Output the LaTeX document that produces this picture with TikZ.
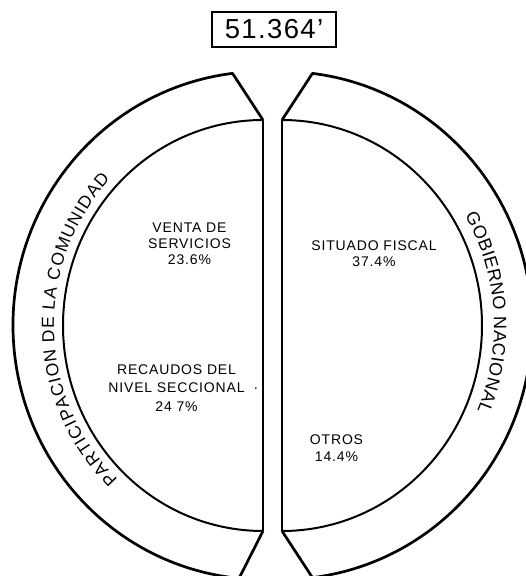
\documentclass[tikz,border=0pt]{standalone}
\usepackage{fontspec}
\setmainfont{Liberation Sans}
\usetikzlibrary{decorations.text}

\begin{document}
\begin{tikzpicture}[x=1pt,y=1pt]
	\tikzstyle{etiq}=[align=center,inner sep=0pt,font=\fontsize{14}{16}\selectfont\addfontfeature{LetterSpace=6}]
	\tikzstyle{borde}=[line width=2.7pt,line join=round]
	\tikzstyle{interior}=[line width=2pt]
	\tikzstyle{recta}=[line width=1.6pt]
	\tikzstyle{curvo}=[decorate,decoration={text along path,text align={fit to path},text={#1}}]

	\useasboundingbox (0,0) rectangle (526,576);

	\coordinate (cl) at (263,250.5);
	\coordinate (cr) at (282,250.5);
	\coordinate (l1) at (263,456);
	\coordinate (l2) at (263,45);
	\coordinate (r1) at (282,456);
	\coordinate (r2) at (282,45);

	\node[draw,line width=2pt,minimum width=124pt,minimum height=35pt,inner sep=0pt,
	font=\fontsize{27.5}{27.5}\selectfont\addfontfeature{LetterSpace=5}] (total) at (274,546.5) {51.364'};

	\draw[borde] (l1) -- ([shift={(97:250 and 254)}]cl) arc[start angle=97,end angle=264.5,x radius=250,y radius=254] -- (l2);
	\draw[interior] (l1) arc[start angle=90,end angle=270,x radius=200,y radius=205.5];
	\draw[recta] (l1) -- (l2);

	\draw[borde] (r1) -- ([shift={(83:250 and 254)}]cr) arc[start angle=83,end angle=-83,x radius=250,y radius=254] -- (r2);
	\draw[interior] (r1) arc[start angle=90,end angle=-90,x radius=200,y radius=205.5];
	\draw[recta] (r1) -- (r2);

	\path[curvo={|\fontsize{17.5}{17.5}\selectfont|PARTICIPACION DE LA COMUNIDAD}]
	([shift={(226:209 and 214)}]cl) arc[start angle=226,end angle=137,x radius=209,y radius=214];
	\path[curvo={|\fontsize{18}{18}\selectfont|GOBIERNO NACIONAL}]
	([shift={(30.5:212 and 217)}]cr) arc[start angle=30.5,end angle=-23,x radius=212,y radius=217];

	\node[etiq] (venta) at (189.5,332) {VENTA DE\\SERVICIOS\\23.6\%};
	\node[etiq] (situado) at (374,322) {SITUADO FISCAL\\37.4\%};
	\node[etiq,font=\fontsize{14}{18.5}\selectfont\addfontfeature{LetterSpace=6}] (recaudos) at (176.5,188)
	{RECAUDOS DEL\\NIVEL SECCIONAL\rlap{\hspace{9pt}·}\\24 7\%};
	\node[etiq,font=\fontsize{14}{17}\selectfont\addfontfeature{LetterSpace=6}] (otros) at (336.5,128) {OTROS\\14.4\%};
\end{tikzpicture}
\end{document}
